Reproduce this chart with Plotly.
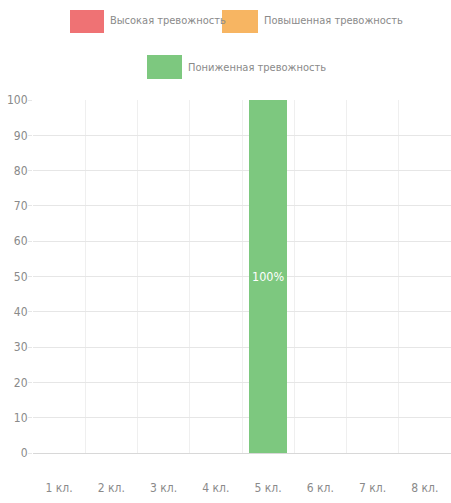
import plotly.graph_objects as go

categories = ["1 кл.", "2 кл.", "3 кл.", "4 кл.", "5 кл.", "6 кл.", "7 кл.", "8 кл."]
series_names = ["Высокая тревожность", "Повышенная тревожность", "Пониженная тревожность"]
high = [0, 0, 0, 0, 0, 0, 0, 0]
elevated = [0, 0, 0, 0, 0, 0, 0, 0]
low = [0, 0, 0, 0, 100, 0, 0, 0]
y_ticks = [0, 10, 20, 30, 40, 50, 60, 70, 80, 90, 100]

colors = ["#ef7274", "#f7b562", "#7dc87f"]
FONT = "Liberation Sans Narrow, Arial Narrow, DejaVu Sans Condensed, sans-serif"
TXT = "#8a8a8a"

W, H = 451, 503
L, R, T, B = 33, 0, 100, 50

fig = go.Figure()
for name, vals, col in zip(series_names, [high, elevated, low], colors):
    fig.add_trace(go.Bar(
        x=categories, y=vals, name=name,
        marker=dict(color=col, line=dict(width=0)),
        text=[f"{v}%" if v else "" for v in vals],
        textposition="inside", insidetextanchor="middle", textangle=0,
        textfont=dict(color="white", size=16, family=FONT),
        showlegend=False,
    ))

# custom legend (Chart.js style boxes)
def px2paper(px, py):
    return (px - L) / (W - L - R), (H - B - py) / (H - T - B)

legend_items = [
    (series_names[0], colors[0], 70, 10, 104, 33, 108, 21),
    (series_names[1], colors[1], 222, 10, 258, 33, 262, 21),
    (series_names[2], colors[2], 147, 55, 182, 79, 186, 67),
]
for name, col, x0, y0, x1, y1, tx, ty in legend_items:
    a, b = px2paper(x0, y1)
    c, d = px2paper(x1, y0)
    fig.add_shape(type="rect", xref="paper", yref="paper", x0=a, y0=b, x1=c, y1=d,
                  fillcolor=col, line=dict(width=0))
    ex, ey = px2paper(tx, ty)
    fig.add_annotation(xref="paper", yref="paper", x=ex, y=ey, text=name,
                       showarrow=False, xanchor="left", yanchor="middle",
                       font=dict(family=FONT, size=11, color=TXT))

fig.update_layout(
    width=W, height=H,
    margin=dict(l=L, r=R, t=T, b=B),
    barmode="stack", bargap=0.27,
    paper_bgcolor="white", plot_bgcolor="white",
    font=dict(family=FONT, size=12, color=TXT),
)
fig.update_xaxes(
    type="category", tickson="boundaries", showgrid=True, gridcolor="#efefef",
    gridwidth=1, ticks="", showline=False, ticklabelstandoff=26,
    tickfont=dict(family=FONT, size=12, color=TXT),
)
fig.update_yaxes(
    range=[0, 100], tickvals=y_ticks, showgrid=True, gridcolor="#e6e6e6",
    zeroline=True, zerolinecolor="#d8d8d8", zerolinewidth=1,
    ticks="outside", ticklen=4, tickcolor="#e6e6e6", ticklabelstandoff=-2,
    tickfont=dict(family=FONT, size=12, color=TXT),
)

fig.write_html("out.html", config={"displayModeBar": False},
               post_script="document.body.style.margin='0';")
